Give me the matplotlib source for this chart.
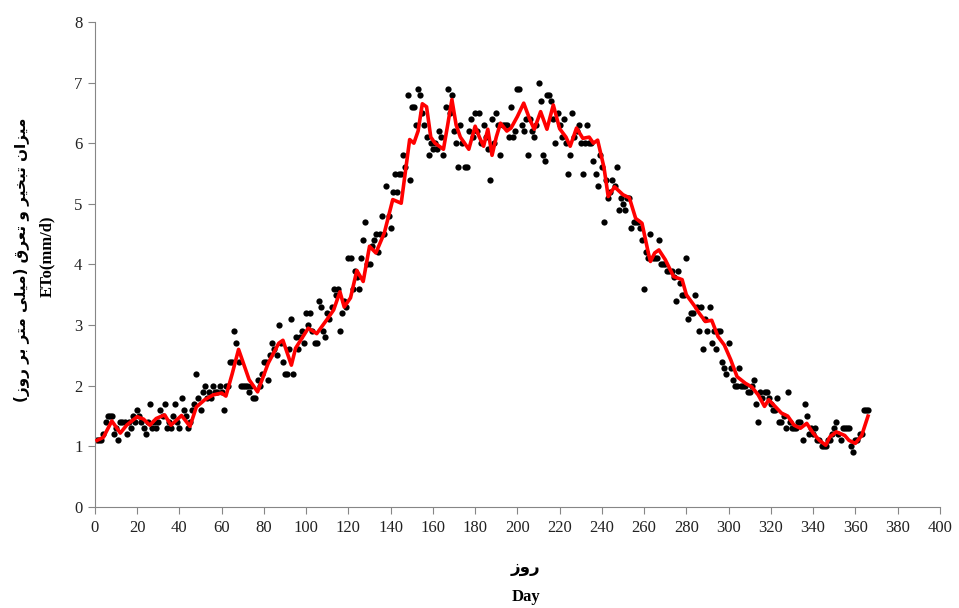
import numpy as np
import matplotlib
matplotlib.use('Agg')
import matplotlib.pyplot as plt

# daily reference evapotranspiration (mm/d), day 1..366
eto_daily = [
    1.1, 1.1, 1.1, 1.2, 1.4, 1.5, 1.5, 1.5, 1.2, 1.3,
    1.1, 1.4, 1.4, 1.4, 1.2, 1.4, 1.3, 1.5, 1.4, 1.6,
    1.5, 1.4, 1.3, 1.2, 1.4, 1.7, 1.3, 1.4, 1.3, 1.4,
    1.6, 1.5, 1.7, 1.3, 1.4, 1.3, 1.5, 1.7, 1.4, 1.3,
    1.8, 1.6, 1.5, 1.3, 1.4, 1.6, 1.7, 2.2, 1.8, 1.6,
    1.9, 2.0, 1.8, 1.9, 1.8, 2.0, 1.9, 1.9, 2.0, 1.9,
    1.6, 2.0, 2.0, 2.4, 2.4, 2.9, 2.7, 2.4, 2.0, 2.0,
    2.0, 2.0, 1.9, 2.0, 1.8, 1.8, 2.1, 2.0, 2.2, 2.4,
    2.4, 2.1, 2.5, 2.7, 2.6, 2.5, 3.0, 2.7, 2.4, 2.2,
    2.2, 2.6, 3.1, 2.2, 2.8, 2.6, 2.8, 2.9, 2.7, 3.2,
    3.0, 3.2, 2.9, 2.7, 2.7, 3.4, 3.3, 2.9, 2.8, 3.2,
    3.1, 3.3, 3.6, 3.5, 3.6, 2.9, 3.2, 3.4, 3.3, 4.1,
    4.1, 3.6, 3.9, 3.8, 3.6, 4.1, 4.4, 4.7, 4.0, 4.0,
    4.3, 4.4, 4.5, 4.2, 4.5, 4.8, 4.5, 5.3, 4.8, 4.6,
    5.2, 5.5, 5.2, 5.5, 5.5, 5.8, 5.6, 6.8, 5.4, 6.6,
    6.6, 6.3, 6.9, 6.8, 6.5, 6.3, 6.1, 5.8, 6.0, 5.9,
    6.0, 5.9, 6.2, 6.1, 5.8, 6.6, 6.9, 6.5, 6.8, 6.2,
    6.0, 5.6, 6.3, 6.0, 5.6, 5.6, 6.2, 6.4, 6.1, 6.5,
    6.2, 6.5, 6.0, 6.3, 6.1, 5.9, 5.4, 6.4, 6.0, 6.5,
    6.3, 5.8, 6.3, 6.3, 6.3, 6.1, 6.6, 6.1, 6.2, 6.9,
    6.9, 6.3, 6.2, 6.4, 5.8, 6.4, 6.2, 6.1, 6.3, 7.0,
    6.7, 5.8, 5.7, 6.8, 6.8, 6.7, 6.4, 6.0, 6.5, 6.3,
    6.1, 6.4, 6.0, 5.5, 5.8, 6.5, 6.1, 6.2, 6.3, 6.0,
    5.5, 6.0, 6.3, 6.0, 6.0, 5.7, 5.5, 5.3, 5.8, 5.6,
    4.7, 5.4, 5.1, 5.2, 5.4, 5.3, 5.6, 4.9, 5.1, 5.0,
    4.9, 5.1, 5.1, 4.6, 4.7, 4.7, 4.7, 4.6, 4.4, 3.6,
    4.2, 4.1, 4.5, 4.1, 4.1, 4.1, 4.4, 4.0, 4.0, 4.0,
    3.9, 3.9, 3.9, 3.8, 3.4, 3.9, 3.7, 3.5, 3.5, 4.1,
    3.1, 3.2, 3.2, 3.5, 3.3, 2.9, 3.3, 2.6, 3.1, 2.9,
    3.3, 2.7, 2.9, 2.6, 2.9, 2.9, 2.4, 2.3, 2.2, 2.7,
    2.3, 2.1, 2.0, 2.0, 2.3, 2.0, 2.0, 2.0, 1.9, 1.9,
    2.0, 2.1, 1.7, 1.4, 1.9, 1.8, 1.9, 1.9, 1.8, 1.7,
    1.6, 1.6, 1.8, 1.4, 1.4, 1.5, 1.3, 1.9, 1.4, 1.3,
    1.3, 1.3, 1.4, 1.4, 1.1, 1.7, 1.5, 1.2, 1.3, 1.2,
    1.3, 1.1, 1.1, 1.0, 1.0, 1.0, 1.1, 1.1, 1.2, 1.3,
    1.4, 1.2, 1.1, 1.3, 1.3, 1.3, 1.3, 1.0, 0.9, 1.1,
    1.1, 1.2, 1.2, 1.6, 1.6, 1.6,
]
days = np.arange(1, len(eto_daily) + 1)

# smoothed curve (red line)
smooth_days = [1, 4, 8, 12, 15, 20, 23, 26, 29, 33, 36, 41, 45, 48, 52, 56, 60, 62,
               65, 68, 73, 77, 82, 87, 89, 93, 95, 101, 105, 110, 113, 116, 118, 121,
               124, 127, 130, 133, 137, 141, 145, 149, 151, 153, 155, 157, 159, 161,
               163, 165, 167, 169, 171, 173, 175, 177, 180, 182, 184, 186, 188, 190,
               192, 195, 197, 200, 203, 206, 208, 211, 214, 217, 220, 223, 225, 228,
               231, 234, 236, 238, 241, 243, 246, 250, 253, 256, 259, 262, 263, 265,
               267, 270, 274, 278, 280, 284, 286, 289, 292, 295, 298, 301, 304, 308,
               311, 314, 317, 319, 322, 325, 328, 331, 334, 337, 340, 343, 346, 348,
               351, 355, 357, 360, 363, 366]
smooth_eto = [1.1, 1.15, 1.42, 1.22, 1.35, 1.49, 1.45, 1.35, 1.46, 1.52, 1.35, 1.51, 1.33,
              1.65, 1.77, 1.85, 1.88, 1.83, 2.2, 2.6, 2.1, 1.9, 2.37, 2.7, 2.75, 2.34, 2.62,
              2.95, 2.86, 3.1, 3.25, 3.55, 3.3, 3.45, 3.9, 3.72, 4.3, 4.19, 4.52, 5.07, 5.01,
              6.06, 6.0, 6.2, 6.65, 6.6, 6.1, 6.0, 5.95, 5.9, 6.3, 6.72, 6.3, 6.1, 6.0, 5.9,
              6.28, 6.1, 5.95, 6.23, 5.8, 6.1, 6.33, 6.2, 6.25, 6.44, 6.66, 6.38, 6.23, 6.52,
              6.23, 6.63, 6.24, 6.1, 5.95, 6.25, 6.08, 6.1, 6.0, 6.05, 5.6, 5.12, 5.28, 5.15,
              5.1, 4.76, 4.68, 4.19, 4.05, 4.19, 4.24, 4.08, 3.8, 3.75, 3.5, 3.31, 3.2, 3.06,
              3.08, 2.81, 2.67, 2.43, 2.15, 2.04, 1.98, 1.85, 1.66, 1.77, 1.66, 1.55, 1.5,
              1.35, 1.3, 1.38, 1.22, 1.1, 1.02, 1.16, 1.24, 1.18, 1.1, 1.05, 1.18, 1.5]

x_ticks = list(range(0, 401, 20))
y_ticks = list(range(0, 9))

# Persian labels written in shaped presentation forms (visual order)
fa_y_logical = ('\uFEE3\uFBFF\uFEB0\uFE8D\uFEE5 \uFE97\uFE92\uFEA8\uFBFF\uFEAE \uFEED '
                '\uFE97\uFECC\uFEAE\uFED5 (\uFEE3\uFBFF\uFEE0\uFBFD \uFEE3\uFE98\uFEAE '
                '\uFE91\uFEAE \uFEAD\uFEED\uFEAF)')
fa_y_label = fa_y_logical.translate(str.maketrans('()', ')('))[::-1]
fa_x_label = '\uFEAD\uFEED\uFEAF'[::-1]

fig = plt.figure(figsize=(9.59, 6.08), dpi=100)
ax = fig.add_axes([0.099, 0.166, 0.881, 0.798])

ax.plot(days, eto_daily, 'o', color='black', ms=4.5, mew=0, zorder=2)
ax.plot(smooth_days, smooth_eto, color='#ff0000', lw=2.6, zorder=3)

ax.set_xlim(0, 400)
ax.set_ylim(0, 8)
ax.set_xticks(x_ticks)
ax.set_yticks(y_ticks)
for s in ['top', 'right']:
    ax.spines[s].set_visible(False)
for s in ['left', 'bottom']:
    ax.spines[s].set_color('#868686')
ax.tick_params(direction='out', length=5, color='#868686', labelsize=12, pad=4,
               labelcolor='#222222')
for lbl in ax.get_xticklabels() + ax.get_yticklabels():
    lbl.set_family('Liberation Serif')

fams = ['Liberation Serif', 'DejaVu Sans']
fig.text(0.548, 0.068, fa_x_label, ha='center', va='center', fontsize=12,
         fontweight='bold', family=['DejaVu Sans'])
fig.text(0.549, 0.018, 'Day', ha='center', va='center', fontsize=12,
         fontweight='bold', family=fams)
fig.text(0.023, 0.573, fa_y_label, ha='center', va='center', rotation=90,
         fontsize=11, fontweight='bold', family=['DejaVu Sans'])
fig.text(0.049, 0.578, 'ETo(mm/d)', ha='center', va='center', rotation=90,
         fontsize=12, fontweight='bold', family=fams)

fig.savefig('out.png', dpi=100)
